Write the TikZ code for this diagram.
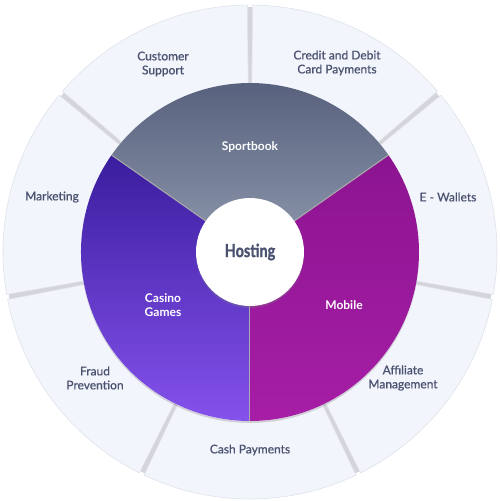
\documentclass[tikz,border=0pt]{standalone}
\usepackage{fontspec}
\setmainfont{Lato}
\newfontfamily\hostfont[FakeStretch=0.8, FakeBold=1.2]{Lato}
\newfontfamily\labelfont[FakeBold=0.7]{Lato}
\usetikzlibrary{shadows}
\definecolor{ringcolor}{HTML}{F3F5FC}
\definecolor{ringline}{HTML}{DFE2EA}
\definecolor{gapcolor}{HTML}{D4D5DA}
\definecolor{labelcolor}{HTML}{4A5270}
\definecolor{sporttop}{HTML}{56607C}
\definecolor{sportbot}{HTML}{8E99AE}
\definecolor{casinotop}{HTML}{3A1D9E}
\definecolor{casinobot}{HTML}{8552EC}
\definecolor{mobiletop}{HTML}{8C1490}
\definecolor{mobilebot}{HTML}{A61EA6}

\begin{document}
\begin{tikzpicture}[x=1pt, y=1pt,
    seg/.style={fill=ringcolor, draw=ringline, line width=0.6pt},
    sepline/.style={draw=gray!65, line width=1pt},
    outlabel/.style={align=center, text=labelcolor, font=\labelfont\fontsize{12}{14}\selectfont},
    inlabel/.style={align=center, text=white, font=\bfseries\fontsize{12}{14}\selectfont}
]
\useasboundingbox (-250,-249) rectangle (250,252);

% outer ring
\fill[gapcolor] (0,0) circle[radius=245pt];
\foreach \a/\b in {90/140, 140/190.5, 190.5/244, 244/296, 296/349.5, 349.5/400, 400/450} {
  \draw[seg] ({\a+0.6}:158pt) -- ({\a+0.6}:247pt) arc[start angle=\a+0.6, end angle=\b-0.6, radius=247pt] -- ({\b-0.6}:158pt) -- cycle;
}

% inner pie
\fill[white, drop shadow={opacity=0.3, shadow xshift=0pt, shadow yshift=-2pt}] (0,0) circle[radius=169pt];
\shade[top color=sporttop, bottom color=sportbot] (0,0) -- (35:169pt) arc[start angle=35, end angle=145, radius=169pt] -- cycle;
\shade[top color=casinotop, bottom color=casinobot] (0,0) -- (145:169pt) arc[start angle=145, end angle=270, radius=169pt] -- cycle;
\shade[top color=mobiletop, bottom color=mobilebot] (0,0) -- (270:169pt) arc[start angle=270, end angle=395, radius=169pt] -- cycle;
\draw[sepline] (0,0) -- (35:169pt);
\draw[sepline] (0,0) -- (145:169pt);
\draw[sepline] (0,0) -- (270:169pt);

\node[circle, fill=white, minimum size=108pt, drop shadow={opacity=0.3, shadow xshift=0pt, shadow yshift=-2pt},
      text=labelcolor, font=\hostfont\bfseries\fontsize{18}{20}\selectfont] (host) at (0,0) {Hosting};

\node[inlabel] (sport) at (0,105) {Sportbook};
\node[inlabel] (casino) at (-87,-53) {Casino\\Games};
\node[inlabel] (mobile) at (94,-53) {Mobile};

\node[outlabel] (support) at (-87,188) {Customer\\Support};
\node[outlabel] (cards) at (87,189) {Credit and Debit\\Card Payments};
\node[outlabel] (wallets) at (198,55) {E - Wallets};
\node[outlabel] (affiliate) at (153,-126) {Affiliate\\Management};
\node[outlabel] (cash) at (0,-198) {Cash Payments};
\node[outlabel] (fraud) at (-155,-126) {Fraud\\Prevention};
\node[outlabel] (marketing) at (-198,55) {Marketing};
\end{tikzpicture}
\end{document}
